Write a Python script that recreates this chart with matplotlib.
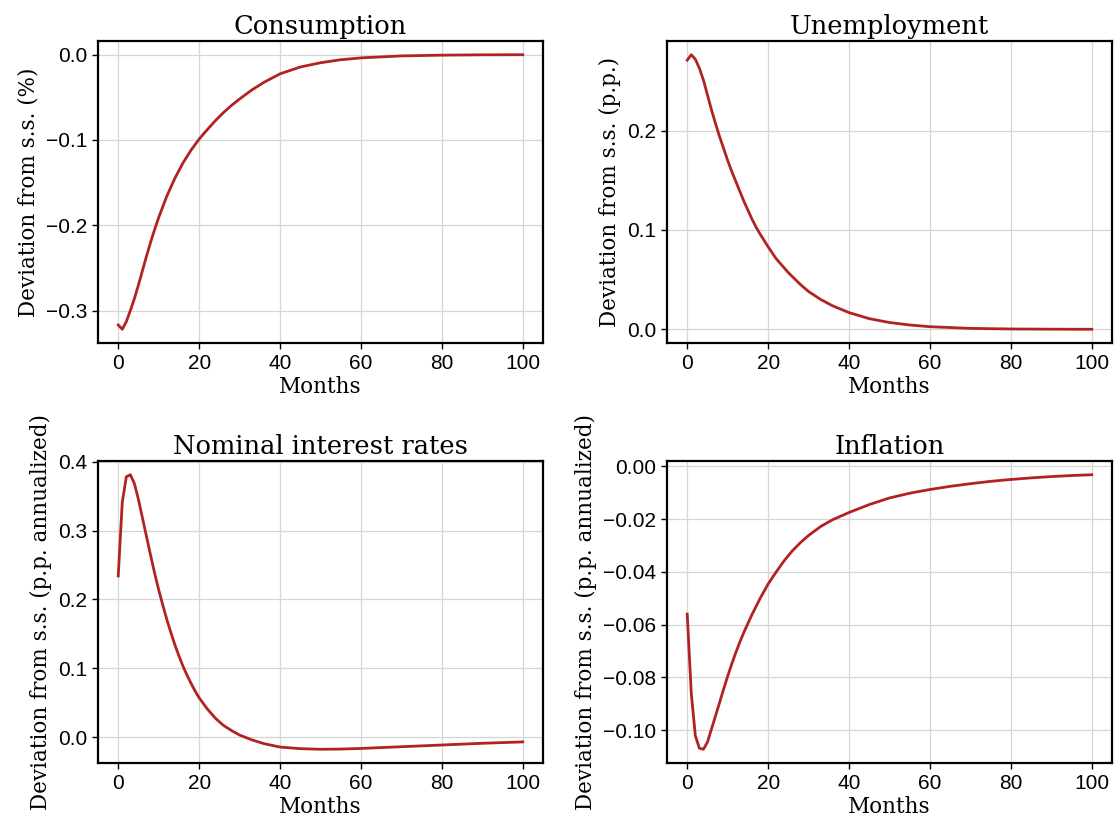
import matplotlib
matplotlib.use("Agg")
import matplotlib.pyplot as plt
from matplotlib.ticker import MultipleLocator

plt.rcParams["font.family"] = ["Liberation Sans", "DejaVu Sans"]

# impulse responses (months, deviation from steady state)
cons_months = [0, 1, 2, 3, 4, 5, 6, 7, 8, 9, 10, 12, 14, 16, 18, 20, 22, 24, 26, 28, 30,
               33, 36, 40, 45, 50, 55, 60, 70, 80, 90, 100]
cons_vals = [-0.317, -0.322, -0.313, -0.300, -0.286, -0.270, -0.253, -0.236, -0.220,
             -0.205, -0.191, -0.166, -0.145, -0.127, -0.112, -0.099, -0.088, -0.0775,
             -0.068, -0.0595, -0.052, -0.0415, -0.0325, -0.0225, -0.0145, -0.0095,
             -0.006, -0.0038, -0.0015, -0.0006, -0.0002, -0.0001]

unemp_months = [0, 1, 2, 3, 4, 5, 6, 7, 8, 9, 10, 11, 12, 13, 14, 15, 16, 17, 18, 20,
                22, 25, 28, 30, 33, 36, 40, 45, 50, 55, 60, 70, 80, 90, 100]
unemp_vals = [0.271, 0.2765, 0.272, 0.263, 0.251, 0.236, 0.221, 0.207, 0.194, 0.182,
              0.170, 0.159, 0.149, 0.139, 0.129, 0.120, 0.111, 0.103, 0.096, 0.083,
              0.071, 0.057, 0.045, 0.038, 0.030, 0.0235, 0.0168, 0.0107, 0.0068,
              0.0043, 0.0026, 0.0009, 0.0003, 0.0001, 0.0]

rate_months = [0, 1, 2, 3, 4, 5, 6, 7, 8, 9, 10, 11, 12, 13, 14, 15, 16, 17, 18, 19,
               20, 22, 24, 26, 28, 30, 33, 36, 40, 45, 50, 55, 60, 70, 80, 90, 100]
rate_vals = [0.234, 0.341, 0.378, 0.381, 0.368, 0.345, 0.318, 0.291, 0.264, 0.238,
             0.214, 0.192, 0.171, 0.152, 0.134, 0.118, 0.103, 0.090, 0.078, 0.067,
             0.057, 0.041, 0.0275, 0.017, 0.0095, 0.003, -0.004, -0.0095, -0.0145,
             -0.0168, -0.0177, -0.0174, -0.0165, -0.014, -0.0115, -0.009, -0.007]

infl_months = [0, 1, 2, 3, 4, 5, 6, 7, 8, 9, 10, 11, 12, 13, 14, 16, 18, 20, 22, 24, 26,
               28, 30, 33, 36, 40, 45, 50, 55, 60, 65, 70, 75, 80, 85, 90, 95, 100]
infl_vals = [-0.056, -0.086, -0.102, -0.1068, -0.1072, -0.1045, -0.0995, -0.0945,
             -0.0895, -0.0844, -0.0795, -0.0749, -0.0706, -0.0666, -0.0629, -0.0562,
             -0.0501, -0.0446, -0.0400, -0.0357, -0.0320, -0.0289, -0.0262, -0.0228,
             -0.0202, -0.0175, -0.0145, -0.012, -0.0102, -0.0088, -0.0076, -0.0066,
             -0.0057, -0.005, -0.0044, -0.0039, -0.0035, -0.0032]

titles = ["Consumption", "Unemployment", "Nominal interest rates", "Inflation"]
ylabels = ["Deviation from s.s. (%)", "Deviation from s.s. (p.p.)",
           "Deviation from s.s. (p.p. annualized)", "Deviation from s.s. (p.p. annualized)"]
ysteps = [0.1, 0.1, 0.1, 0.02]
series = [(cons_months, cons_vals), (unemp_months, unemp_vals),
          (rate_months, rate_vals), (infl_months, infl_vals)]

line_color = "#b22222"
serif = ["DejaVu Serif"]

W, H = 1115, 827
fig = plt.figure(figsize=(W / 100, H / 100), dpi=100)

# axes boxes in pixels: left, bottom (from top)
boxes = [(98, 343), (667, 343), (98, 763), (667, 763)]
aw, ah = 445, 302

for (left, bottom), title, ylab, step, (xs, ys) in zip(boxes, titles, ylabels, ysteps, series):
    ax = fig.add_axes([left / W, (H - bottom) / H, aw / W, ah / H])
    ax.plot(xs, ys, color=line_color, lw=2.0, zorder=3)
    ax.grid(True, color="#d6d6d6", lw=0.9)
    ax.set_axisbelow(True)
    ax.set_title(title, fontsize=18.5, family=serif, pad=5)
    ax.set_xlabel("Months", fontsize=15.5, family=serif, labelpad=2)
    ax.set_ylabel(ylab, fontsize=15.5, family=serif, labelpad=4)
    ax.set_xticks([0, 20, 40, 60, 80, 100])
    ax.yaxis.set_major_locator(MultipleLocator(step))
    for sp in ax.spines.values():
        sp.set_linewidth(1.6)
        sp.set_color("black")
    ax.tick_params(direction="out", length=4, width=1, pad=4, labelsize=15)

fig.savefig("out.png", dpi=100)
